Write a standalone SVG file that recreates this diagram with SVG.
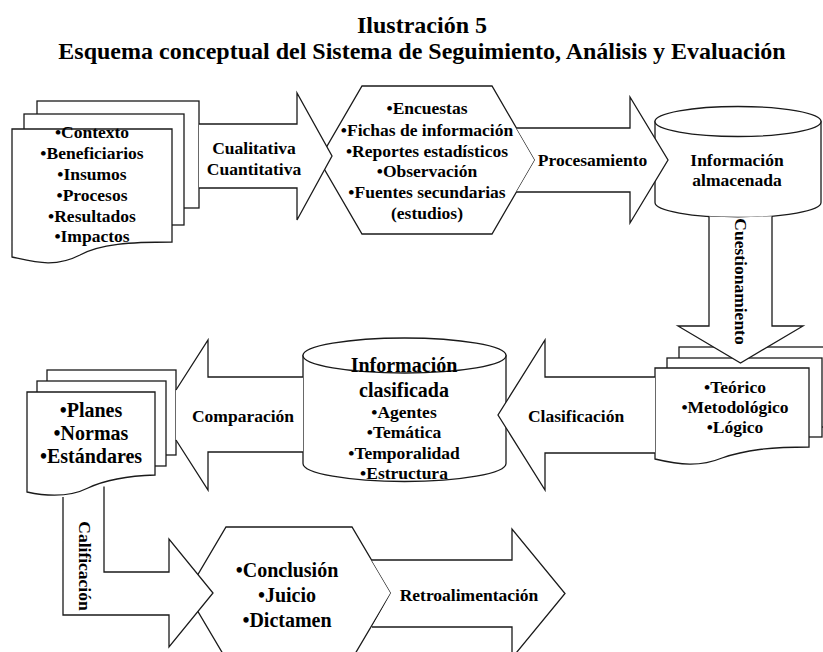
<svg xmlns="http://www.w3.org/2000/svg" width="823" height="652" viewBox="0 0 823 652">
<defs>
<style>
.s{fill:#fff;stroke:#1a1a1a;stroke-width:1.3;stroke-linejoin:miter}
.f{fill:#fff;stroke:none}
.l{fill:none;stroke:#1a1a1a;stroke-width:1.3;stroke-linejoin:miter}
text{font-family:"Liberation Serif","Times New Roman",serif;font-weight:bold;fill:#000;text-anchor:middle}
.t18{font-size:17.5px}
.t20{font-size:20px}
.title{font-size:24px}
</style>
</defs>
<rect width="823" height="652" fill="#fff"/>
<g id="title">
<text class="title" x="422" y="33">Ilustración 5</text>
<text class="title" x="422" y="59">Esquema conceptual del Sistema de Seguimiento, Análisis y Evaluación</text>
</g>

<g id="doc-variables">
<rect class="s" x="37" y="101" width="162" height="107"/>
<rect class="s" x="24" y="114" width="160" height="111"/>
<path class="s" d="M12,129 H172 V242 C130,242 100,244 80,255 C55,268 35,262 12,257 Z"/>
<text class="t18" x="92" y="138">•Contexto</text>
<text class="t18" x="92" y="159">•Beneficiarios</text>
<text class="t18" x="92" y="180">•Insumos</text>
<text class="t18" x="92" y="200.5">•Procesos</text>
<text class="t18" x="92" y="221.5">•Resultados</text>
<text class="t18" x="92" y="242">•Impactos</text>
</g>

<g id="hex-fuentes">
<polygon class="s" points="362,86 492,86 535,160 492,234 362,234 319,160"/>
<text class="t18" x="427" y="114">•Encuestas</text>
<text class="t18" x="427" y="135.5">•Fichas de información</text>
<text class="t18" x="427" y="156.5">•Reportes estadísticos</text>
<text class="t18" x="427" y="176.5">•Observación</text>
<text class="t18" x="427" y="198">•Fuentes secundarias</text>
<text class="t18" x="427" y="218.5">(estudios)</text>
</g>

<g id="cyl-almacenada">
<path class="s" d="M655,121.5 V202.5 A83,15 0 0 0 821,202.5 V121.5 Z"/>
<ellipse class="s" cx="738" cy="121.5" rx="83" ry="15"/>
<text class="t18" x="737" y="166">Información</text>
<text class="t18" x="737" y="186">almacenada</text>
</g>

<g id="doc-enfoques">
<rect class="s" x="679" y="347" width="160" height="80"/>
<rect class="s" x="667" y="358" width="155" height="79"/>
<path class="s" d="M655,368 H809 V447 C770,447 745,450 722,458 C700,467 680,465 655,459 Z"/>
<text class="t18" x="735" y="393">•Teórico</text>
<text class="t18" x="735" y="413">•Metodológico</text>
<text class="t18" x="735" y="433">•Lógico</text>
</g>

<g id="cyl-clasificada">
<path class="s" d="M303,355.5 V463.5 A101.5,18 0 0 0 506,463.5 V355.5 Z"/>
<ellipse class="s" cx="404.5" cy="355.5" rx="101.5" ry="17.5"/>
<text class="t20" x="404" y="372">Información</text>
<text class="t20" x="404" y="397">clasificada</text>
<text class="t18" x="404" y="418">•Agentes</text>
<text class="t18" x="404" y="438">•Temática</text>
<text class="t18" x="404" y="458.5">•Temporalidad</text>
<text class="t18" x="404" y="479">•Estructura</text>
</g>

<g id="doc-referentes">
<rect class="s" x="47" y="370" width="129" height="85"/>
<rect class="s" x="37" y="381" width="129" height="85"/>
<path class="s" d="M27,392 H155 V475 C125,476 105,480 88,488 C70,497 50,497 27,492 Z"/>
<text class="t20" x="91" y="417">•Planes</text>
<text class="t20" x="91" y="440">•Normas</text>
<text class="t20" x="91" y="463">•Estándares</text>
</g>

<g id="hex-resultado">
<polygon class="s" points="226,527 352,527 391,593 352,659 226,659 187,593"/>
<text class="t20" x="287" y="577">•Conclusión</text>
<text class="t20" x="287" y="601.5">•Juicio</text>
<text class="t20" x="287" y="627">•Dictamen</text>
</g>

<g id="connectors">
<g id="arrow-cualitativa">
<polygon class="f" points="199,124 297,124 297,93 332,156 297,220 297,188 199,188"/>
<path class="l" d="M199,124 H297 V93 L332,156 L297,220 V188 H199"/>
<text class="t18" x="254" y="154">Cualitativa</text>
<text class="t18" x="254" y="175">Cuantitativa</text>
</g>
<g id="arrow-procesamiento">
<polygon class="f" points="516.4,128 630,128 630,97 668,160 630,223 630,192 516.4,192 535,160"/>
<path class="l" d="M516.4,128 H630 V97 L668,160 L630,223 V192 H516.4"/>
<text class="t18" x="592.5" y="166">Procesamiento</text>
</g>
<g id="arrow-cuestionamiento">
<polygon class="f" points="709,216.6 738,217.5 772,216.2 772,326 803,326 740.5,363 678,326 709,326"/>
<path class="l" d="M709,216.6 V326 H678 L740.5,363 L803,326 H772 V216.2"/>
<text class="t18" transform="translate(741,281.5) rotate(90)" x="0" y="6">Cuestionamiento</text>
</g>
<g id="arrow-clasificacion">
<polygon class="f" points="655,377 545,377 545,340 498,415 545,490 545,453 655,453"/>
<path class="l" d="M655,377 H545 V340 L498,415 L545,490 V453 H655"/>
<text class="t18" x="576" y="422">Clasificación</text>
</g>
<g id="arrow-comparacion">
<polygon class="f" points="303,377 208,377 208,340 176,390 176,440 208,490 208,452 303,452"/>
<path class="l" d="M303,377 H208 V340 L176,390 M176,440 L208,490 V452 H303"/>
<text class="t18" x="243" y="422">Comparación</text>
</g>
<g id="arrow-calificacion">
<polygon class="f" points="104,486.5 104,572 169,572 169,539 213,593 169,647 169,615 63,615 63,497 83,494"/>
<path class="l" d="M104,486.5 V572 H169 V539 L213,593 L169,647 V615 H63 V497"/>
<text class="t18" transform="translate(84.5,566) rotate(90)" x="0" y="6">Calificación</text>
</g>
<g id="arrow-retroalimentacion">
<polygon class="f" points="371.5,560 512,560 512,529 565,593.5 512,658 512,627 372,627 391,593"/>
<path class="l" d="M371.5,560 H512 V529 L565,593.5 L512,658 V627 H372"/>
<text class="t18" x="469" y="601">Retroalimentación</text>
</g>
</g>
</svg>
